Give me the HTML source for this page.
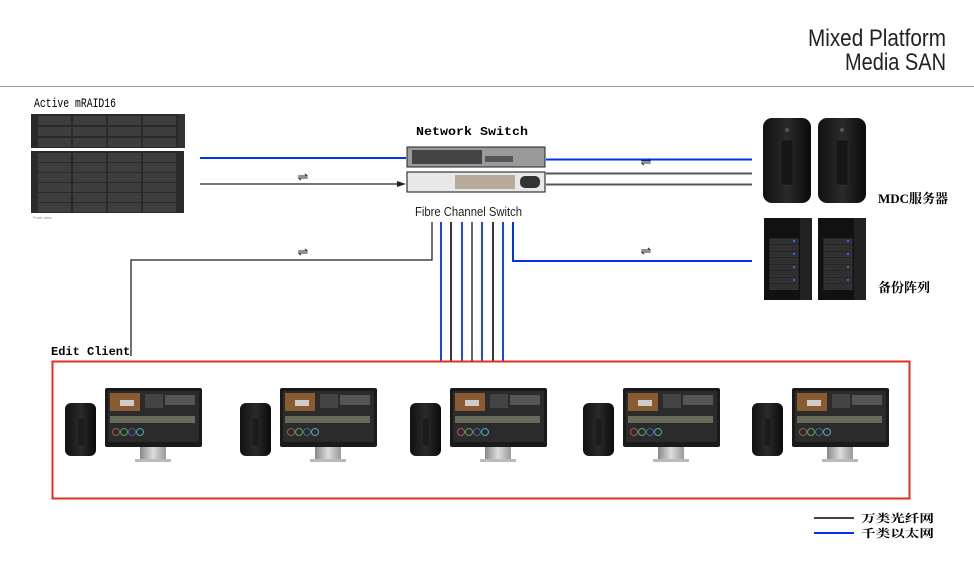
<!DOCTYPE html>
<html><head><meta charset="utf-8"><style>
body{margin:0;background:#fff;}
svg{display:block;}
</style></head><body>
<svg width="974" height="572" viewBox="0 0 974 572" xmlns="http://www.w3.org/2000/svg" font-family="Liberation Sans, sans-serif">
<defs>
<linearGradient id="mp" x1="0" x2="1"><stop offset="0" stop-color="#111"/><stop offset="0.5" stop-color="#2a2a2a"/><stop offset="1" stop-color="#0a0a0a"/></linearGradient>
<linearGradient id="stand" x1="0" x2="1"><stop offset="0" stop-color="#888"/><stop offset="0.5" stop-color="#ddd"/><stop offset="1" stop-color="#999"/></linearGradient>
<g id="client">
 <rect x="0" y="15" width="31" height="53" rx="6" fill="url(#mp)"/>
 <rect x="12" y="30" width="8" height="28" fill="#1c1c1c" stroke="#333" stroke-width="0.5"/>
 <rect x="40" y="0" width="97" height="59" rx="2" fill="#1a1a1a"/>
 <rect x="43" y="3" width="91" height="51" fill="#2b2b2b"/>
 <rect x="45" y="5" width="30" height="18" fill="#8a5a30"/>
 <rect x="55" y="12" width="14" height="6" fill="#ccc"/>
 <rect x="80" y="6" width="18" height="14" fill="#444"/>
 <rect x="100" y="7" width="30" height="10" fill="#555"/>
 <rect x="45" y="28" width="85" height="7" fill="#6a6a5a"/>
 <circle cx="51" cy="44" r="3.5" fill="none" stroke="#a55" stroke-width="1"/>
 <circle cx="59" cy="44" r="3.5" fill="none" stroke="#5a5" stroke-width="1"/>
 <circle cx="67" cy="44" r="3.5" fill="none" stroke="#55a" stroke-width="1"/>
 <circle cx="75" cy="44" r="3.5" fill="none" stroke="#5aa" stroke-width="1"/>
 <rect x="75" y="59" width="26" height="13" fill="url(#stand)"/>
 <rect x="70" y="71" width="36" height="3" fill="#bbb"/>
</g>
<g id="macpro">
 <rect x="0" y="0" width="48" height="85" rx="9" fill="url(#mp)"/>
 <rect x="18" y="22" width="12" height="45" fill="#161616" stroke="#333" stroke-width="0.5"/>
 <circle cx="24" cy="12" r="2" fill="#555"/>
</g>
<g id="tower">
 <rect x="0" y="0" width="48" height="82" fill="#111"/>
 <rect x="36" y="0" width="12" height="82" fill="#222"/>
 <rect x="5" y="20" width="30" height="52" fill="#1d1d1d"/>
 <g fill="#2f2f2f" stroke="#444" stroke-width="0.4">
  <rect x="6" y="21" width="28" height="5"/><rect x="6" y="27.5" width="28" height="5"/><rect x="6" y="34" width="28" height="5"/><rect x="6" y="40.5" width="28" height="5"/><rect x="6" y="47" width="28" height="5"/><rect x="6" y="53.5" width="28" height="5"/><rect x="6" y="60" width="28" height="5"/><rect x="6" y="66.5" width="28" height="5"/>
 </g>
 <g fill="#36f"><rect x="29" y="22" width="2" height="2"/><rect x="29" y="35" width="2" height="2"/><rect x="29" y="48" width="2" height="2"/><rect x="29" y="61" width="2" height="2"/></g>
</g>
</defs>

<text x="808" y="46" font-size="24" fill="#222" textLength="138" lengthAdjust="spacingAndGlyphs">Mixed Platform</text>
<text x="845" y="70" font-size="24" fill="#222" textLength="101" lengthAdjust="spacingAndGlyphs">Media SAN</text>
<line x1="0" y1="86.5" x2="974" y2="86.5" stroke="#999" stroke-width="1"/>

<!-- storage -->
<text x="34" y="107" font-size="13" font-family="Liberation Mono, monospace" fill="#000" textLength="82" lengthAdjust="spacingAndGlyphs">Active mRAID16</text>
<rect x="31" y="114" width="153" height="34" fill="#2a2a2a"/>
<rect x="31" y="151" width="153" height="62" fill="#2a2a2a"/>
<rect x="178" y="114" width="7" height="34" fill="#333"/>
<g fill="#3e3e3e">
<rect x="38" y="116" width="33" height="9"/><rect x="73" y="116" width="33" height="9"/><rect x="108" y="116" width="33" height="9"/><rect x="143" y="116" width="33" height="9"/>
<rect x="38" y="127" width="33" height="9"/><rect x="73" y="127" width="33" height="9"/><rect x="108" y="127" width="33" height="9"/><rect x="143" y="127" width="33" height="9"/>
<rect x="38" y="138" width="33" height="9"/><rect x="73" y="138" width="33" height="9"/><rect x="108" y="138" width="33" height="9"/><rect x="143" y="138" width="33" height="9"/>
</g>
<g fill="#3e3e3e">
<rect x="38" y="153" width="33" height="9"/><rect x="73" y="153" width="33" height="9"/><rect x="108" y="153" width="33" height="9"/><rect x="143" y="153" width="33" height="9"/>
<rect x="38" y="163" width="33" height="9"/><rect x="73" y="163" width="33" height="9"/><rect x="108" y="163" width="33" height="9"/><rect x="143" y="163" width="33" height="9"/>
<rect x="38" y="173" width="33" height="9"/><rect x="73" y="173" width="33" height="9"/><rect x="108" y="173" width="33" height="9"/><rect x="143" y="173" width="33" height="9"/>
<rect x="38" y="183" width="33" height="9"/><rect x="73" y="183" width="33" height="9"/><rect x="108" y="183" width="33" height="9"/><rect x="143" y="183" width="33" height="9"/>
<rect x="38" y="193" width="33" height="9"/><rect x="73" y="193" width="33" height="9"/><rect x="108" y="193" width="33" height="9"/><rect x="143" y="193" width="33" height="9"/>
<rect x="38" y="203" width="33" height="9"/><rect x="73" y="203" width="33" height="9"/><rect x="108" y="203" width="33" height="9"/><rect x="143" y="203" width="33" height="9"/>
</g>
<text x="33" y="219" font-size="4" fill="#888">Front view</text>

<!-- switches -->
<text x="416" y="135" font-size="12" font-weight="bold" font-family="Liberation Mono, monospace" fill="#000" textLength="112" lengthAdjust="spacingAndGlyphs">Network Switch</text>
<rect x="407" y="147" width="138" height="20" fill="#9a9a9a" stroke="#222" stroke-width="1"/>
<rect x="412" y="150" width="70" height="14" fill="#444"/>
<rect x="485" y="156" width="28" height="6" fill="#555"/>
<rect x="407" y="172" width="138" height="20" fill="#e8e8e8" stroke="#111" stroke-width="1"/>
<rect x="455" y="175" width="60" height="14" fill="#b8aa9a"/>
<rect x="520" y="176" width="20" height="12" rx="5" fill="#333"/>
<text x="415" y="216" font-size="13" fill="#222" textLength="107" lengthAdjust="spacingAndGlyphs">Fibre Channel Switch</text>

<!-- connectors -->
<line x1="200" y1="158" x2="406" y2="158" stroke="#0033ee" stroke-width="2"/>
<line x1="200" y1="184" x2="400" y2="184" stroke="#222" stroke-width="1.3"/>
<polygon points="406,184 397,181 397,187" fill="#222"/>
<text x="303" y="181" font-size="13" text-anchor="middle" fill="#222">⇌</text>
<line x1="546" y1="159.5" x2="752" y2="159.5" stroke="#0033ee" stroke-width="2"/>
<line x1="546" y1="173.5" x2="752" y2="173.5" stroke="#555" stroke-width="2"/>
<line x1="546" y1="184.5" x2="752" y2="184.5" stroke="#555" stroke-width="2"/>
<text x="646" y="166" font-size="13" text-anchor="middle" fill="#222">⇌</text>
<polyline points="432,222 432,260 131,260 131,356" fill="none" stroke="#222" stroke-width="1.3"/>
<text x="303" y="256" font-size="13" text-anchor="middle" fill="#222">⇌</text>
<polyline points="513,222 513,261 752,261" fill="none" stroke="#0033ee" stroke-width="2"/>
<text x="646" y="255" font-size="13" text-anchor="middle" fill="#222">⇌</text>
<g stroke-width="1.8">
<line x1="441" y1="222" x2="441" y2="361" stroke="#0033ee"/>
<line x1="451" y1="222" x2="451" y2="361" stroke="#222"/>
<line x1="462" y1="222" x2="462" y2="361" stroke="#0033ee"/>
<line x1="472" y1="222" x2="472" y2="361" stroke="#555"/>
<line x1="482" y1="222" x2="482" y2="361" stroke="#0033ee"/>
<line x1="493" y1="222" x2="493" y2="361" stroke="#222"/>
<line x1="503" y1="222" x2="503" y2="361" stroke="#0033ee"/>
</g>

<!-- servers -->
<use href="#macpro" x="763" y="118"/>
<use href="#macpro" x="818" y="118"/>
<text x="878" y="203" font-size="13" font-weight="bold" fill="#000" font-family="Liberation Serif, Noto Serif CJK SC, serif">MDC服务器</text>
<use href="#tower" x="764" y="218"/>
<use href="#tower" x="818" y="218"/>
<text x="878" y="292" font-size="13" font-weight="bold" fill="#000" font-family="Liberation Serif, Noto Serif CJK SC, serif">备份阵列</text>

<!-- clients -->
<text x="51" y="355" font-size="12" font-weight="bold" font-family="Liberation Mono, monospace" fill="#000">Edit Client</text>
<rect x="52.5" y="361.5" width="857" height="137" fill="none" stroke="#e03020" stroke-width="2"/>
<use href="#client" x="65" y="388"/>
<use href="#client" x="240" y="388"/>
<use href="#client" x="410" y="388"/>
<use href="#client" x="583" y="388"/>
<use href="#client" x="752" y="388"/>

<!-- legend -->
<line x1="814" y1="518" x2="854" y2="518" stroke="#444" stroke-width="2"/>
<line x1="814" y1="533" x2="854" y2="533" stroke="#0033ee" stroke-width="2"/>
<text x="861" y="522" font-size="11" font-weight="bold" fill="#000" font-family="Noto Serif CJK SC, serif" textLength="73" lengthAdjust="spacingAndGlyphs">万类光纤网</text>
<text x="861" y="537" font-size="11" font-weight="bold" fill="#000" font-family="Noto Serif CJK SC, serif" textLength="73" lengthAdjust="spacingAndGlyphs">千类以太网</text>
</svg>
</body></html>
